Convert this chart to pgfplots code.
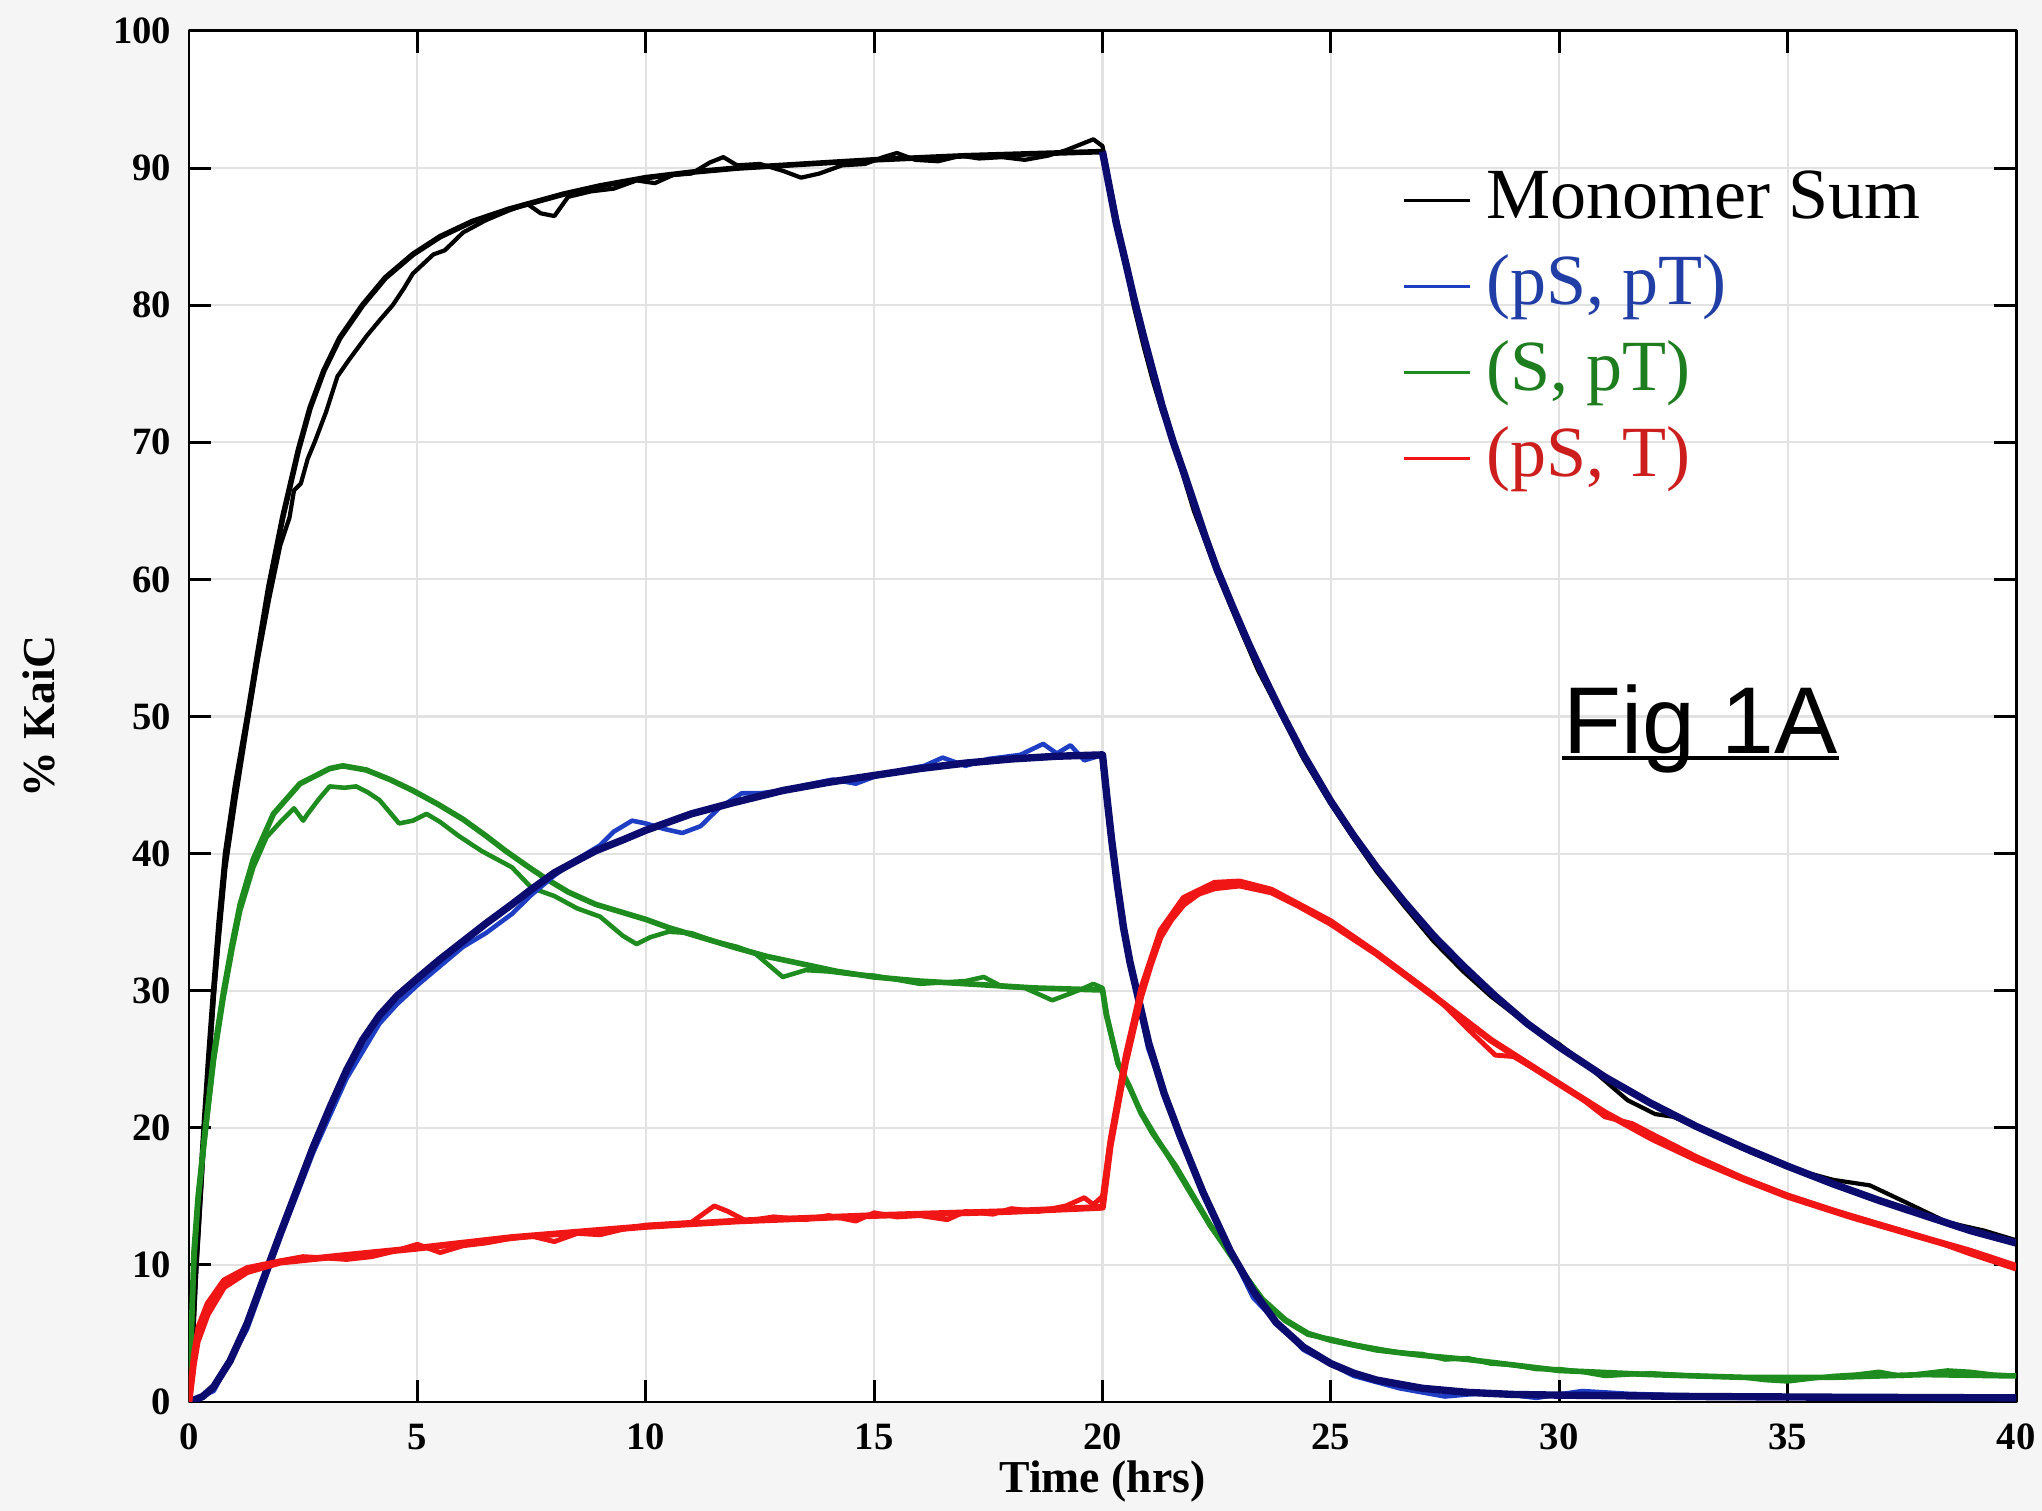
\documentclass[border=0pt]{standalone}
\usepackage{pgfplots}
\pgfplotsset{compat=1.18}
\usepackage{fontspec}
\setmainfont{Liberation Serif}
\newfontfamily\arialfont{Liberation Sans}
\usepackage{xcolor}
\definecolor{navyfit}{RGB}{12,12,110}
\definecolor{bluedata}{RGB}{30,62,195}
\definecolor{greenc}{RGB}{30,140,30}
\definecolor{redc}{RGB}{240,22,22}
\definecolor{legblue}{RGB}{32,62,165}
\definecolor{leggreen}{RGB}{30,125,30}
\definecolor{legred}{RGB}{205,30,30}
\definecolor{outerbg}{RGB}{245,245,245}
\definecolor{gridc}{RGB}{226,226,226}

\begin{document}
\begin{tikzpicture}
\fill[outerbg] (-1.89,-1.09) rectangle (18.53,14.02);
\useasboundingbox (-1.89,-1.09) rectangle (18.53,14.02);
\begin{axis}[
  scale only axis,
  width=18.27cm, height=13.71cm,
  xmin=0, xmax=40, ymin=0, ymax=100,
  xtick={0,5,...,40}, ytick={0,10,...,100},
  tick pos=both, tick align=inside,
  major tick length=0.22cm,
  axis line style={black, line width=0.85pt},
  every tick/.style={black, line width=0.85pt},
  axis background/.style={fill=white},
  grid=major,
  major grid style={gridc, line width=0.6pt},
  /pgf/number format/assume math mode=true,
  tick label style={font=\fontsize{11}{13}\selectfont\bfseries},
  xticklabel style={anchor=center, yshift=-0.35cm},
  yticklabel style={anchor=east, inner sep=0pt, xshift=-0.17cm},
  xlabel={Time (hrs)},
  ylabel={\% KaiC},
  label style={font=\fontsize{13}{15}\selectfont\bfseries},
  xlabel style={at={(axis description cs:0.5,-0.058)}, anchor=center},
  ylabel style={at={(axis description cs:-0.082,0.5)}, anchor=center},
  legend style={at={(axis description cs:0.664,0.902)}, anchor=north west,
    draw=none, fill=none, inner sep=0pt, row sep=0.17cm,
    font=\fontsize{20.5}{23}\selectfont,
    nodes={inner sep=0pt, text height=0.52cm, text depth=0.17cm}},
  legend cell align=left,
  legend image code/.code={\draw[#1] (0cm,0cm) -- (0.66cm,0cm); \path (0.80cm,0cm);},
  line join=round,
]

% Monomer sum: data and fit
\addplot[black, line width=1.2pt, forget plot] coordinates {
(0,0)(0.08,4)(0.15,9)(0.24,14)(0.33,19)(0.43,24)(0.54,29.5)(0.66,34)(0.8,39)
(1.02,44)(1.28,49.5)(1.5,54)(1.75,58.5)(2.0,62.5)(2.2,64.5)(2.3,66.5)(2.45,67)
(2.6,68.8)(2.75,70)(3.0,72.2)(3.25,74.8)(3.5,76)(3.9,77.8)(4.2,79)(4.46,80)
(4.7,81.2)(4.9,82.3)(5.35,83.7)(5.6,84)(6.0,85.3)(6.5,86.2)(7,86.9)(7.4,87.4)
(7.7,86.7)(8.0,86.5)(8.3,87.9)(8.8,88.3)(9.3,88.5)(9.8,89.1)(10.2,88.9)(10.6,89.5)
(11.0,89.6)(11.4,90.4)(11.7,90.8)(12.0,90.2)(12.5,90.3)(13.0,89.8)(13.4,89.3)
(13.8,89.6)(14.3,90.2)(14.8,90.3)(15.2,90.8)(15.5,91.1)(15.9,90.6)(16.4,90.5)
(16.9,90.9)(17.3,90.7)(17.8,90.8)(18.3,90.6)(18.8,90.9)(19.2,91.3)(19.5,91.7)
(19.8,92.1)(20,91.6)(20.15,89)(20.3,86.5)(20.5,83.2)(20.68,80)(20.9,77)(21.1,74.5)
(21.3,72.3)(21.55,70)(21.8,67.2)(22,65)(22.25,62.8)(22.5,60.5)(22.75,58.5)(23,56.5)
(23.4,53.4)(23.9,50.2)(24.4,46.9)(25,43.6)(25.5,41.1)(26,38.7)(26.6,36.2)(27.25,33.6)
(27.9,31.4)(28.5,29.6)(29.2,27.8)(30,26.1)(30.8,24)(31.5,22)(32.1,21)(32.5,20.8)
(33.5,19.3)(34.2,18.2)(35,17.1)(36,16.2)(36.8,15.8)(37.5,14.7)(38.5,13.1)(39.3,12.5)
(40,11.8)
};
\addplot[black, line width=1.6pt, forget plot] coordinates {
(0,0)(0.08,5)(0.15,10)(0.24,15)(0.33,20)(0.43,25)(0.54,30)(0.66,35)(0.8,40)
(1.02,45)(1.28,50)(1.5,54.5)(1.75,59.5)(2.05,64.5)(2.4,69.5)(2.65,72.5)(2.95,75.2)
(3.3,77.6)(3.8,80)(4.3,82)(4.9,83.7)(5.5,85)(6.2,86.1)(7,87)(8.2,88.1)(9,88.7)
(10,89.3)(11,89.7)(12,90)(13,90.2)(14,90.4)(15,90.6)(16,90.75)(17,90.9)(18,91)
(19,91.1)(20,91.2)
};
\addplot[navyfit, line width=2.1pt, forget plot] coordinates {
(20,91.2)(20.15,88.6)(20.3,86)(20.5,83.2)(20.68,80.6)(20.9,77.7)(21.1,75.2)
(21.3,72.7)(21.55,70)(21.8,67.6)(22,65.6)(22.25,63.1)(22.5,60.8)(22.85,58)
(23.2,55.3)(23.55,52.8)(23.9,50.4)(24.4,47.2)(25,43.8)(25.5,41.3)(26,39)
(26.6,36.5)(27.25,34)(27.9,31.8)(28.6,29.6)(29.3,27.6)(30,25.9)(31,23.7)
(32,21.8)(33,20.1)(34,18.6)(35,17.2)(36,15.9)(37,14.7)(38,13.6)(39,12.5)(40,11.6)
};

% (S, pT): data and fit
\addplot[greenc, line width=1.3pt, forget plot] coordinates {
(0,0)(0.11,10)(0.2,14.5)(0.36,19.5)(0.55,25)(0.76,29.5)(0.95,33)(1.12,35.8)
(1.41,39)(1.7,41.2)(2.0,42.3)(2.3,43.3)(2.5,42.4)(2.6,42.9)(2.85,44)(3.08,44.9)
(3.4,44.8)(3.66,44.9)(3.9,44.5)(4.17,43.9)(4.4,43)(4.6,42.2)(4.9,42.4)(5.2,42.9)
(5.5,42.3)(5.9,41.3)(6.4,40.2)(7.07,39)(7.5,37.5)(8,36.9)(8.5,36)(9,35.4)(9.5,34)
(9.8,33.4)(10.1,33.9)(10.5,34.3)(11,34.2)(11.5,33.6)(12,33.2)(12.4,32.7)(13,31.0)
(13.5,31.5)(14,31.4)(14.5,31.2)(15,31.1)(15.5,30.8)(16,30.5)(16.5,30.6)(17.0,30.7)
(17.4,31.0)(17.8,30.3)(18.3,30.2)(18.9,29.3)(19.3,29.8)(19.6,30.2)(19.8,30.5)
(20,30.2)(20.1,28.2)(20.34,24.6)(20.84,21.2)(21.6,17)(22.36,12.8)(23,9.9)(23.5,7.4)
(24,5.9)(24.5,4.9)(25,4.6)(25.5,4.2)(26,3.9)(26.5,3.6)(27,3.5)(27.5,3.1)(28,3.2)
(28.5,2.8)(29,2.7)(29.5,2.4)(30,2.4)(30.5,2.2)(31,1.9)(31.5,2.0)(32,2.1)(33,1.9)
(34,1.8)(34.5,1.6)(35,1.5)(35.5,1.7)(36,1.9)(36.5,2.0)(37,2.2)(37.5,1.9)(38,2.1)
(38.5,2.3)(39,2.2)(39.5,2.0)(40,1.9)
};
\addplot[greenc, line width=1.6pt, forget plot] coordinates {
(0,0)(0.11,11)(0.2,15)(0.36,20)(0.55,25.5)(0.76,30)(0.95,33.5)(1.12,36.3)
(1.41,39.6)(1.85,42.9)(2.43,45.1)(3.08,46.2)(3.37,46.4)(3.88,46.1)(4.4,45.4)
(4.9,44.6)(5.45,43.6)(6,42.5)(6.5,41.3)(6.93,40.2)(7.4,39.1)(7.8,38.2)(8.3,37.2)
(8.9,36.3)(9.5,35.7)(10,35.2)(10.5,34.6)(11.2,33.9)(12,33.1)(12.65,32.5)
(13.5,31.9)(14.2,31.4)(15,31.0)(16,30.7)(17.04,30.5)(18.5,30.2)(20,30.05)
(20.08,28.3)(20.34,24.7)(20.59,23)(20.84,21.1)(21.1,19.6)(21.6,17.2)(22.36,12.9)
(22.95,10)(23.5,7.5)(24,6)(24.5,5)(25,4.5)(26,3.8)(27,3.4)(28,3.1)(29,2.7)
(30,2.3)(32,2.0)(34,1.8)(36,1.8)(38,2.0)(40,1.9)
};

% (pS, pT): data and fit
\addplot[bluedata, line width=1.3pt, forget plot] coordinates {
(0,0)(0.54,0.8)(1.27,5.3)(2.0,12)(2.72,18.2)(3.45,23.6)(4.17,27.6)(4.55,29)(5,30.4)
(5.5,31.8)(6,33.2)(6.5,34.2)(7.07,35.6)(7.5,37)(8,38.4)(8.5,39.6)(9,40.6)(9.3,41.6)
(9.7,42.4)(10,42.2)(10.4,41.8)(10.8,41.5)(11.2,42)(11.6,43.3)(12.1,44.4)(12.5,44.4)
(13,44.6)(13.5,45)(14.1,45.4)(14.6,45.1)(15,45.6)(15.6,46.1)(16.1,46.4)(16.5,47)
(17,46.4)(17.5,46.9)(18.2,47.2)(18.7,48)(19,47.3)(19.3,47.9)(19.6,46.8)(20,47.2)
(20.2,40.8)(20.5,33.8)(21,25.8)(21.7,19.2)(22.5,13)(23.3,7.6)(24.4,3.8)(25.5,1.9)
(26.5,1.0)(27.5,0.4)(28.5,0.7)(29.5,0.3)(30.5,0.8)(31.5,0.6)(32.5,0.5)(34,0.3)
(37,0.4)(40,0.3)
};
\addplot[navyfit, line width=2.1pt, forget plot] coordinates {
(0,0)(0.3,0.4)(0.54,1.1)(0.9,3)(1.27,5.7)(1.6,8.7)(2.0,12.3)(2.4,15.8)(2.72,18.6)
(3.1,21.6)(3.45,24.2)(3.8,26.4)(4.17,28.2)(4.55,29.6)(5,30.9)(5.5,32.3)(6,33.6)
(6.5,34.9)(7.07,36.3)(7.5,37.4)(8,38.6)(8.5,39.5)(8.9,40.2)(9.5,41)(10,41.7)
(11,42.9)(11.9,43.7)(13,44.6)(14,45.2)(15,45.7)(16,46.2)(17,46.6)(18,46.9)(19,47.1)
(20,47.2)(20.1,44)(20.2,41)(20.33,37.6)(20.46,34.6)(20.6,32.1)(20.76,29.8)
(21.01,26.2)(21.35,22.5)(21.7,19.4)(22.2,15.3)(22.8,11)(23.3,8.1)(23.8,5.8)
(24.4,4)(25,2.8)(25.5,2.1)(26,1.6)(27,1.0)(28,0.7)(29,0.55)(30,0.5)(33,0.4)
(36,0.35)(40,0.3)
};

% (pS, T): data and fit
\addplot[redc, line width=1.4pt, forget plot] coordinates {
(0,0)(0.1,3.5)(0.2,5.5)(0.4,7.2)(0.76,8.9)(1.27,9.8)(2.0,10.3)(2.5,10.6)(3.0,10.5)
(3.45,10.4)(4,10.6)(4.5,11.0)(5,11.5)(5.5,10.9)(6,11.4)(6.5,11.6)(7,11.9)(7.5,12.1)
(8,11.7)(8.5,12.3)(9,12.2)(9.5,12.6)(10,12.9)(10.5,13.0)(11,13.1)(11.5,14.3)
(11.8,13.9)(12.2,13.2)(12.8,13.5)(13.5,13.3)(14,13.6)(14.6,13.2)(15,13.8)(15.5,13.5)
(16,13.6)(16.6,13.3)(17,13.9)(17.6,13.7)(18,14.1)(18.6,13.9)(19.2,14.3)(19.6,14.9)
(19.8,14.4)(20,15)(20.17,19.2)(20.5,25.3)(20.84,30.2)(21.26,34.4)(21.77,36.8)
(22.45,37.9)(23,38)(23.7,37.4)(25,35.1)(26,32.8)(27.25,29.7)(28,27.2)(28.6,25.3)
(29,25.2)(29.5,24.2)(30,23.2)(30.5,22.1)(31,20.8)(31.6,20.3)(32,19.6)(33,17.9)
(34,16.4)(35,15.1)(36,14.0)(37,13.0)(38,12.0)(39,10.8)(40,9.7)
};
\addplot[redc, line width=1.9pt, forget plot] coordinates {
(0,0)(0.1,2.8)(0.18,4.4)(0.4,6.4)(0.76,8.4)(1.27,9.5)(2.0,10.2)(3.45,10.7)
(4.96,11.2)(7.07,12)(10,12.8)(12,13.2)(15,13.6)(18,13.9)(20,14.2)(20.17,18.7)
(20.5,24.7)(20.84,29.6)(21.05,31.9)(21.26,33.9)(21.5,35.2)(21.77,36.3)(22.1,37.1)
(22.45,37.5)(23,37.7)(23.7,37.2)(24.3,36.2)(25,34.9)(26,32.7)(27.25,29.6)
(28.5,26.4)(30,23.2)(31,21.1)(32.04,19.2)(33,17.7)(34,16.3)(35,15)(36.4,13.5)
(37.85,12.1)(39,11)(40,9.9)
};

\addlegendimage{black, line width=0.9pt}
\addlegendentry{Monomer Sum}
\addlegendimage{bluedata, line width=0.9pt}
\addlegendentry{\textcolor{legblue}{(pS, pT)}}
\addlegendimage{greenc, line width=0.9pt}
\addlegendentry{\textcolor{leggreen}{(S, pT)}}
\addlegendimage{redc, line width=0.9pt}
\addlegendentry{\textcolor{legred}{(pS, T)}}

\node[anchor=base west, inner sep=0pt, font=\arialfont\fontsize{27}{30}\selectfont]
  at (axis cs:30.08,47.3) {Fig 1A};
\draw[black, line width=1.1pt] (axis cs:30.06,46.97) -- (axis cs:36.12,46.97);
\end{axis}
\end{tikzpicture}
\end{document}
